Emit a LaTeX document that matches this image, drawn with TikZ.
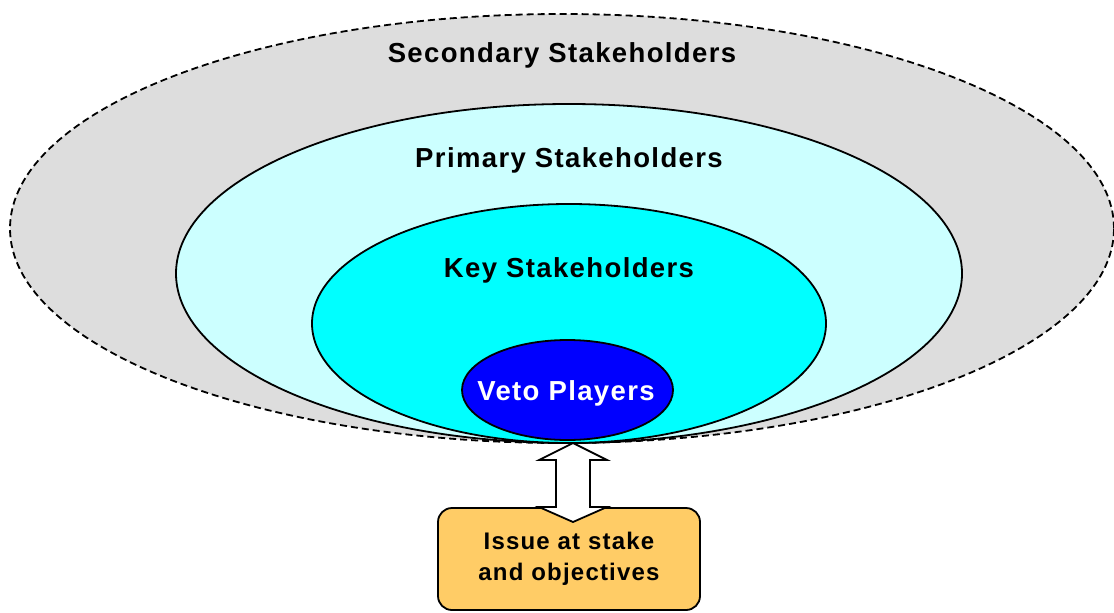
\documentclass[tikz,border=0pt]{standalone}
\usepackage{fontspec}
\setmainfont{Liberation Sans}[LetterSpace=5]
\usepackage{tikz}
\usepackage{xcolor}
\usetikzlibrary{shapes.geometric,positioning,calc}
\definecolor{secgray}{HTML}{DDDDDD}
\definecolor{primcyan}{HTML}{CCFFFF}
\definecolor{keycyan}{HTML}{00FFFF}
\definecolor{vetoblue}{HTML}{0000FF}
\definecolor{issueorange}{HTML}{FFCC66}

\begin{document}
\begin{tikzpicture}[x=1pt,y=-1pt,
  ring/.style={ellipse,draw=black,line width=1.8pt,inner sep=0pt},
  lbl/.style={anchor=base,font=\fontsize{27.5}{32}\selectfont\bfseries},
  dbl/.style={draw=black,line width=1.8pt,fill=white,line join=miter},
  issuebox/.style={draw=black,line width=1.8pt,rounded corners=14pt,fill=issueorange,align=center,
    minimum width=262pt,minimum height=102pt,font=\fontsize{24}{31}\selectfont\bfseries}
]
\useasboundingbox (0,0) rectangle (1114,613);

\node[ring,fill=secgray,dash pattern=on 7pt off 4pt,minimum width=1104pt,minimum height=429pt] (outer) at (562,228.5) {};
\node[ring,fill=primcyan,minimum width=786pt,minimum height=339pt] (primary) at (569,273.5) {};
\node[ring,fill=keycyan,minimum width=514pt,minimum height=239pt] (key) at (569,323.5) {};
\node[ring,fill=vetoblue,minimum width=211pt,minimum height=100pt] (veto) at (567.5,390) {};

\node[lbl] (seclbl) at (562,62) {Secondary Stakeholders};
\node[lbl] (primlbl) at (569,167) {Primary Stakeholders};
\node[lbl] (keylbl) at (569,277) {Key Stakeholders};
\node[lbl,text=white] (vetolbl) at (566,400) {Veto Players};

\node[issuebox] (issue) at (569,559) {Issue at stake\\and objectives};

% two-way arrow between veto players and the issue
\coordinate (tipup) at (573,443);
\draw[dbl] (tipup) -- ++(34,17) -- ++(-17,0) -- ++(0,47) -- ++(17,0) -- ++(-34,15)
  -- ++(-34,-15) -- ++(17,0) -- ++(0,-47) -- ++(-17,0) -- cycle;
\end{tikzpicture}
\end{document}
